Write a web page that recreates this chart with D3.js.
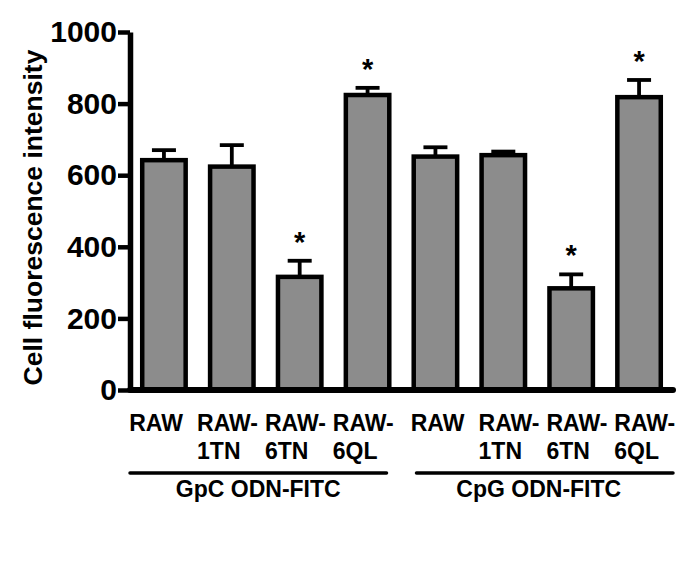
<!DOCTYPE html>
<html>
<head>
<meta charset="utf-8">
<script src="https://cdn.jsdelivr.net/npm/d3@7"></script>
<style>
  body { margin: 0; background: #fff; }
  svg { display: block; font-family: "Liberation Sans", Arial, sans-serif; }
</style>
</head>
<body>
<div id="chart"></div>
<script>
// Values
const groups = ['GpC ODN-FITC', 'CpG ODN-FITC'];
const cells = ['RAW', 'RAW-1TN', 'RAW-6TN', 'RAW-6QL'];
const gpcMeans = [642, 624, 316, 824];
const gpcErrors = [28, 60, 45, 20];
const gpcSignif = [false, false, true, true];
const cpgMeans = [652, 656, 284, 818];
const cpgErrors = [26, 10, 39, 48];
const cpgSignif = [false, false, true, true];
const yTicks = [0, 200, 400, 600, 800, 1000];

// Flatten into one row per bar
const rows = [];
[[gpcMeans, gpcErrors, gpcSignif], [cpgMeans, cpgErrors, cpgSignif]].forEach((s, g) => {
  cells.forEach((c, i) => {
    rows.push({ key: g + '-' + c, group: g, cell: c, mean: s[0][i], err: s[1][i], star: s[2][i] });
  });
});

const width = 700, height = 565;
const svg = d3.select('#chart').append('svg')
  .attr('width', width)
  .attr('height', height);

const x = d3.scaleBand()
  .domain(rows.map(d => d.key))
  .range([130, 673])
  .paddingInner(0.36)
  .paddingOuter(0.18);

const y = d3.scaleLinear()
  .domain([0, 1000])
  .range([390, 32]);

// Bars
svg.append('g').selectAll('rect')
  .data(rows)
  .join('rect')
    .attr('x', d => x(d.key))
    .attr('y', d => y(d.mean))
    .attr('width', x.bandwidth())
    .attr('height', d => y(0) - y(d.mean))
    .attr('fill', '#8c8c8c')
    .attr('stroke', '#000')
    .attr('stroke-width', 4.5);

// Error bars (upper only)
const err = svg.append('g')
  .attr('stroke', '#000')
  .attr('stroke-width', 3.8);
err.selectAll('line.v')
  .data(rows)
  .join('line')
    .attr('class', 'v')
    .attr('x1', d => x(d.key) + x.bandwidth() / 2)
    .attr('x2', d => x(d.key) + x.bandwidth() / 2)
    .attr('y1', d => y(d.mean))
    .attr('y2', d => y(d.mean + d.err));
err.selectAll('line.cap')
  .data(rows)
  .join('line')
    .attr('class', 'cap')
    .attr('x1', d => x(d.key) + x.bandwidth() / 2 - 12)
    .attr('x2', d => x(d.key) + x.bandwidth() / 2 + 12)
    .attr('y1', d => y(d.mean + d.err))
    .attr('y2', d => y(d.mean + d.err));

// Significance stars
svg.append('g').selectAll('text')
  .data(rows.filter(d => d.star))
  .join('text')
    .attr('x', d => x(d.key) + x.bandwidth() / 2)
    .attr('y', d => y(d.mean + d.err) - 9)
    .attr('text-anchor', 'middle')
    .style('font', 'bold 29px "Liberation Sans", Arial, sans-serif')
    .text('*');

// Y axis
const yAxis = svg.append('g')
  .attr('transform', 'translate(130,0)')
  .call(d3.axisLeft(y).tickValues(yTicks).tickFormat(d3.format('d'))
    .tickSize(12).tickSizeOuter(0).tickPadding(1));
yAxis.select('.domain').attr('stroke-width', 5.5);
yAxis.selectAll('.tick line').attr('stroke-width', 4.5);
yAxis.selectAll('.tick text')
  .style('font', 'bold 30px "Liberation Sans", Arial, sans-serif')
  .attr('fill', '#000');

// X axis line
svg.append('line')
  .attr('x1', x.range()[0])
  .attr('x2', x.range()[1])
  .attr('y1', y(0))
  .attr('y2', y(0))
  .attr('stroke', '#000')
  .attr('stroke-width', 6)
  .attr('stroke-linecap', 'round');

// Y title
svg.append('text')
  .attr('transform', `translate(42, ${(52 + 383) / 2}) rotate(-90)`)
  .attr('text-anchor', 'middle')
  .style('font', 'bold 26.5px "Liberation Sans", Arial, sans-serif')
  .text('Cell fluorescence intensity');

// Category labels, split after the hyphen onto two lines
const labelX = d => x(d.key) + (d.group === 0 ? -13 : -3);
const labels = svg.append('g').selectAll('text')
  .data(rows)
  .join('text')
    .attr('x', labelX)
    .attr('y', 431)
    .style('font', 'bold 23px "Liberation Sans", Arial, sans-serif');
labels.each(function(d) {
  const parts = d.cell.match(/^(RAW-?)(.*)$/);
  const t = d3.select(this);
  t.append('tspan').text(parts[1]);
  if (parts[2]) {
    t.append('tspan').attr('x', labelX(d)).attr('dy', 28).text(parts[2]);
  }
});

// Group lines and labels
const last = cells.length - 1;
const boundary = (x(rows[last].key) + x.bandwidth() + x(rows[last + 1].key)) / 2;
const spans = [
  [x.range()[0], boundary - 15],
  [boundary + 15, x.range()[1]]
];
const grp = svg.append('g');
groups.forEach((name, g) => {
  grp.append('line')
    .attr('x1', spans[g][0])
    .attr('x2', spans[g][1])
    .attr('y1', 473)
    .attr('y2', 473)
    .attr('stroke', '#000')
    .attr('stroke-width', 3.5)
    .attr('stroke-linecap', 'round');
  grp.append('text')
    .attr('x', (spans[g][0] + spans[g][1]) / 2 - (g === 1 ? 6 : 0))
    .attr('y', 497)
    .attr('text-anchor', 'middle')
    .style('font', 'bold 23px "Liberation Sans", Arial, sans-serif')
    .text(name);
});
</script>
</body>
</html>
